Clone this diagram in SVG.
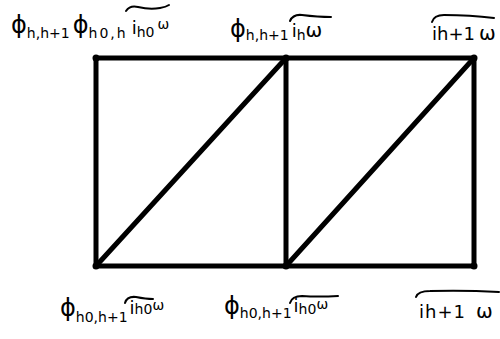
<svg xmlns="http://www.w3.org/2000/svg" width="500" height="339" viewBox="0 0 500 339">
<style>
.edge{stroke:#000;stroke-width:5;stroke-linecap:round;fill:none}
.tl{stroke:#000;stroke-width:2;fill:none;stroke-linecap:round}
text{font-family:"DejaVu Sans","Liberation Sans",sans-serif;fill:#000}
.big{font-size:24px}
.sub{font-size:14px}
.mid{font-size:18px}
.w{font-size:20px}
.dot{fill:#000}
</style>
<rect width="500" height="339" fill="#fff"/>
<g id="connectors">
<line class="edge" x1="96" y1="58" x2="474" y2="58"/>
<line class="edge" x1="96" y1="266" x2="474" y2="266"/>
<line class="edge" x1="96" y1="58" x2="96" y2="266"/>
<line class="edge" x1="286" y1="58" x2="286" y2="266"/>
<line class="edge" x1="474" y1="58" x2="474" y2="266"/>
<line class="edge" x1="96" y1="266" x2="286" y2="58"/>
<line class="edge" x1="286" y1="266" x2="474" y2="58"/>
</g>
<g id="n-top-left">
<circle class="dot" cx="96" cy="58" r="3.5"/>
<text x="11" y="33"><tspan class="big">ϕ</tspan><tspan class="sub" dy="5">h,h+1</tspan><tspan class="big" dy="-5" dx="3">ϕ</tspan><tspan class="sub" dy="5" letter-spacing="2">h0,h</tspan><tspan class="mid" dy="-4" dx="4">i</tspan><tspan class="sub" dy="3">h0</tspan><tspan class="sub" dy="-8" dx="3">ω</tspan></text>
<path class="tl" d="M126 11 Q130 5 138 7 Q150 10 160 8 Q166 7 169 5"/>
</g>
<g id="n-top-mid">
<circle class="dot" cx="286" cy="58" r="3.5"/>
<text x="230" y="37"><tspan class="big">ϕ</tspan><tspan class="sub" dy="3">h,h+1</tspan><tspan class="mid" dy="-3" dx="3">i</tspan><tspan class="sub" dy="3">h</tspan><tspan class="w" dy="-3">ω</tspan></text>
<path class="tl" d="M290 21 Q293 14 302 15 Q318 17 331 17"/>
</g>
<g id="n-top-right">
<circle class="dot" cx="474" cy="58" r="3.5"/>
<text x="432" y="40"><tspan class="mid">ih+1</tspan><tspan class="w" dx="4">ω</tspan></text>
<path class="tl" d="M432 22 Q434 15 444 15 Q470 15 494 18"/>
</g>
<g id="n-bottom-left">
<circle class="dot" cx="96" cy="266" r="3.5"/>
<text x="60" y="316"><tspan class="big">ϕ</tspan><tspan class="sub" dy="6">h0,h+1</tspan><tspan class="mid" dy="-8" dx="2">i</tspan><tspan class="sub" dy="0">h0</tspan><tspan class="sub" dy="-4">ω</tspan></text>
<path class="tl" d="M125 303 Q127 296 136 297 Q146 299 153 299"/>
</g>
<g id="n-bottom-mid">
<circle class="dot" cx="286" cy="266" r="3.5"/>
<text x="224" y="314"><tspan class="big">ϕ</tspan><tspan class="sub" dy="4">h0,h+1</tspan><tspan class="mid" dy="-6" dx="2">i</tspan><tspan class="sub" dy="2">h0</tspan><tspan class="sub" dy="-5">ω</tspan></text>
<path class="tl" d="M290 303 Q292 296 302 296 Q318 297 338 296"/>
</g>
<g id="n-bottom-right">
<circle class="dot" cx="474" cy="266" r="3.5"/>
<text x="419" y="318"><tspan class="mid" letter-spacing="1">ih+1</tspan><tspan class="w" dx="10" font-size="22">ω</tspan></text>
<path class="tl" d="M416 297 Q418 291 430 291 Q465 290 499 292"/>
</g>
</svg>
